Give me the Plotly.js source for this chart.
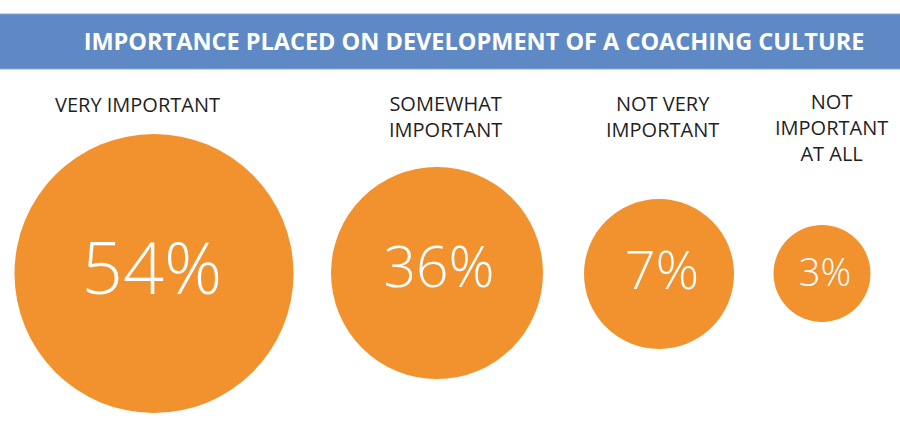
<!DOCTYPE html>
<html>
<head>
<meta charset="utf-8">
<script src="https://cdn.plot.ly/plotly-3.0.1.min.js"></script>
<style>html,body{margin:0;padding:0;background:#fff;}#chart{width:900px;height:433px;}</style>
</head>
<body>
<div id="chart"></div>
<script>
// ---- data ----
const categories = ["VERY IMPORTANT", "SOMEWHAT<br>IMPORTANT", "NOT VERY<br>IMPORTANT", "NOT<br>IMPORTANT<br>AT ALL"];
const percentages = [54, 36, 7, 3];
const chartTitle = "IMPORTANCE PLACED ON DEVELOPMENT OF A COACHING CULTURE";

// ---- layout / style (pixels) ----
const circleX = [154, 437, 659, 822];
const circleY = [273.5, 273, 274, 273.5];
const circleDiam = [279, 212, 150, 97];
const valueX = [152, 439, 662, 825];
const valueY = [276, 273, 275, 276];
const valueFont = [72, 57, 54, 38];
const labelX = [137, 445, 662, 831];
const labelTop = 104.5;
const labelLineGap = 23;

const orange = "#F1922F";
const blue = "#5F89C5";

const circles = {
  type: "scatter",
  mode: "markers",
  x: circleX,
  y: circleY,
  marker: {size: circleDiam, color: orange, line: {width: 0}, opacity: 1},
  hoverinfo: "skip",
  showlegend: false,
  cliponaxis: false
};

const values = {
  type: "scatter",
  mode: "text",
  x: valueX,
  y: valueY,
  text: percentages.map(v => v + "%"),
  textposition: "middle center",
  textfont: {family: "Open Sans", size: valueFont, color: "#ffffff", weight: 300},
  hoverinfo: "skip",
  showlegend: false,
  cliponaxis: false
};

const annotations = categories.map((c, i) => {
  const n = c.split("<br>").length;
  return {
    x: labelX[i], y: labelTop + (n - 1) * labelLineGap / 2, xref: "x", yref: "y",
    text: c, showarrow: false, xanchor: "center", yanchor: "middle", align: "center",
    font: {family: "Open Sans", size: 20, color: "#1f1f1f"}
  };
});

const layout = {
  width: 900, height: 433,
  margin: {l: 0, r: 0, t: 0, b: 0},
  paper_bgcolor: "#ffffff", plot_bgcolor: "#ffffff",
  xaxis: {range: [0, 900], visible: false, fixedrange: true},
  yaxis: {range: [433, 0], visible: false, fixedrange: true},
  title: {
    text: chartTitle,
    x: 474 / 900, xanchor: "center", xref: "paper",
    y: 1 - 41.5 / 433, yanchor: "middle", yref: "paper",
    font: {family: "Open Sans", size: 23.5, color: "#ffffff", weight: 700}
  },
  shapes: [{
    type: "rect", xref: "x", yref: "y", x0: -2, x1: 902, y0: 14, y1: 69,
    fillcolor: blue, line: {color: "#8AA6D6", width: 1}, layer: "below"
  }],
  annotations: annotations
};

Plotly.newPlot("chart", [circles, values], layout, {displayModeBar: false, staticPlot: true});
</script>
</body>
</html>
